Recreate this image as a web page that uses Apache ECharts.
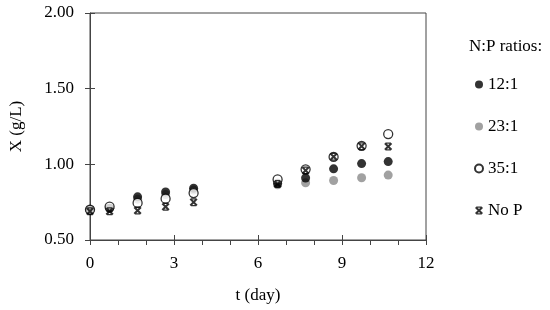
<!DOCTYPE html>
<html>
<head>
<meta charset="utf-8">
<script src="https://cdn.jsdelivr.net/npm/echarts@6/dist/echarts.min.js"></script>
<style>html,body{margin:0;padding:0;background:#fff;}#c{width:550px;height:310px;}</style>
</head>
<body>
<div id="c"></div>
<script>
const days = [0, 0.7, 1.7, 2.7, 3.7, 6.7, 7.7, 8.7, 9.7, 10.65];
const r12 = [0.70, 0.71, 0.785, 0.818, 0.842, 0.875, 0.91, 0.97, 1.005, 1.018];
const r23 = [0.70, 0.71, 0.77, 0.80, 0.83, 0.865, 0.878, 0.893, 0.911, 0.929];
const r35 = [0.70, 0.72, 0.745, 0.773, 0.81, 0.90, 0.967, 1.049, 1.122, 1.20];
const noP = [0.69, 0.69, 0.695, 0.72, 0.75, 0.87, 0.96, 1.05, 1.12, 1.118];
const seriesNames = ['12:1', '23:1', '35:1', 'No P'];
const xTicks = [0, 3, 6, 9, 12];
const yTicks = [0.5, 1.0, 1.5, 2.0];

const font = 'Liberation Serif';
const axisColor = '#444';
const pairs = a => days.map((d, i) => [d, a[i]]);
const starPath = 'path://M0,1.8L1.8,0L10,8.2L8.2,10ZM8.2,0L10,1.8L1.8,10L0,8.2ZM1.5,0L8.5,0L8.5,1.6L1.5,1.6ZM1.5,8.4L8.5,8.4L8.5,10L1.5,10Z';

const chart = echarts.init(document.getElementById('c'), null, {renderer: 'canvas'});
const baseX = {
  type: 'value', min: xTicks[0], max: xTicks[xTicks.length - 1], interval: 3
};
const baseY = {
  type: 'value', min: yTicks[0], max: yTicks[yTicks.length - 1], interval: 0.5
};
chart.setOption({
  animation: false,
  backgroundColor: '#fff',
  textStyle: {fontFamily: font},
  title: {
    text: 'N:P ratios:', left: 464, top: 33,
    textStyle: {fontFamily: font, fontSize: 17, fontWeight: 'normal', color: '#000'}
  },
  legend: {
    orient: 'vertical', left: 469, top: 71, itemGap: 25,
    itemWidth: 8, itemHeight: 8,
    textStyle: {fontFamily: font, fontSize: 17, color: '#000'},
    data: [
      {name: seriesNames[0]}, {name: seriesNames[1]}, {name: seriesNames[2]}, {name: seriesNames[3]}
    ]
  },
  grid: {left: 89, top: 13, right: 124, bottom: 70, show: true, borderColor: axisColor, borderWidth: 1},
  xAxis: [
    Object.assign({}, baseX, {
      position: 'bottom',
      name: 't (day)', nameLocation: 'middle', nameGap: 47,
      nameTextStyle: {fontFamily: font, fontSize: 17, color: '#000'},
      axisLine: {show: true, lineStyle: {color: axisColor, width: 1}},
      axisTick: {show: true, length: 5, lineStyle: {color: axisColor}},
      minorTick: {show: true, splitNumber: 3, length: 5, lineStyle: {color: axisColor}},
      axisLabel: {fontFamily: font, fontSize: 17, color: '#000', margin: 15},
      splitLine: {show: false}
    }),
    Object.assign({}, baseX, {
      position: 'bottom', gridIndex: 0,
      axisLine: {show: false},
      axisTick: {show: true, inside: true, length: 5, lineStyle: {color: axisColor}},
      axisLabel: {show: false}, splitLine: {show: false}
    })
  ],
  yAxis: [
    Object.assign({}, baseY, {
      position: 'left',
      name: 'X (g/L)', nameLocation: 'middle', nameGap: 65, nameRotate: 90,
      nameTextStyle: {fontFamily: font, fontSize: 17, color: '#000'},
      axisLine: {show: true, lineStyle: {color: axisColor, width: 1}},
      axisTick: {show: true, length: 5, lineStyle: {color: axisColor}},
      axisLabel: {fontFamily: font, fontSize: 17, color: '#000', margin: 16,
        formatter: v => v.toFixed(2)},
      splitLine: {show: false}
    }),
    Object.assign({}, baseY, {
      position: 'left', gridIndex: 0,
      axisLine: {show: false},
      axisTick: {show: true, inside: true, length: 5, lineStyle: {color: axisColor}},
      axisLabel: {show: false}, splitLine: {show: false}
    })
  ],
  series: [
    {name: seriesNames[1], type: 'scatter', data: pairs(r23), symbol: 'circle', symbolSize: 9,
      itemStyle: {color: '#8a8a8a'}, z: 2},
    {name: seriesNames[0], type: 'scatter', data: pairs(r12), symbol: 'circle', symbolSize: 9,
      itemStyle: {color: '#000'}, z: 3},
    {name: seriesNames[2], type: 'scatter', data: pairs(r35), symbol: 'circle', symbolSize: 9,
      itemStyle: {color: '#fff', borderColor: '#000', borderWidth: 1.3}, z: 4},
    {name: seriesNames[3], type: 'scatter', data: pairs(noP), symbol: starPath, symbolSize: 8,
      itemStyle: {color: '#000'}, z: 5}
  ]
});
</script>
</body>
</html>
